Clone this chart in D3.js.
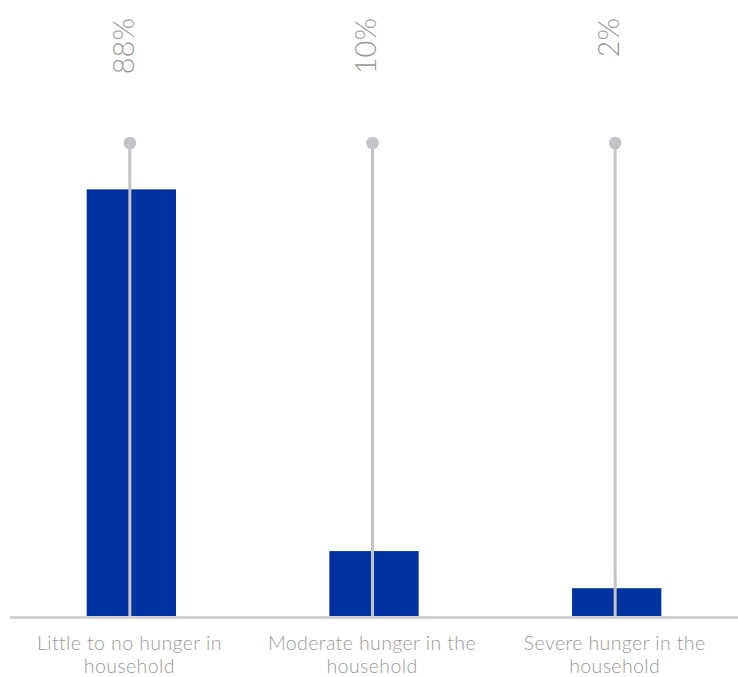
<!DOCTYPE html>
<html>
<head>
<meta charset="utf-8">
<script src="https://cdn.jsdelivr.net/npm/d3@7"></script>
<style>
  html, body { margin: 0; padding: 0; background: #ffffff; }
  svg { display: block; }
  text { font-family: Lato, "Open Sans", sans-serif; }
</style>
</head>
<body>
<div id="chart"></div>
<script>
// Household hunger scale — share of households in each category
const categories = [
  ["Little to no hunger in", "household"],
  ["Moderate hunger in the", "household"],
  ["Severe hunger in the", "household"]
];
const values = [88, 10, 2];
const valueLabels = ["88%", "10%", "2%"];

const width = 738, height = 677;
const baseY = 616, plotTop = 143;

const svg = d3.select("#chart").append("svg")
  .attr("width", width)
  .attr("height", height);

const x = d3.scaleBand()
  .domain(d3.range(values.length))
  .range([10, 738])
  .paddingInner(0.632)
  .paddingOuter(0.316);

const y = d3.scaleLinear()
  .domain([-4, 98])
  .range([baseY, plotTop]);

const cx = i => x(i) + x.bandwidth() / 2;

// bars
svg.append("g").selectAll("rect")
  .data(values)
  .join("rect")
  .attr("x", (d, i) => x(i))
  .attr("width", x.bandwidth())
  .attr("y", d => y(d))
  .attr("height", d => baseY - y(d))
  .attr("fill", "#0033a0");

// baseline
svg.append("line")
  .attr("x1", 10).attr("x2", width)
  .attr("y1", baseY + 1.5).attr("y2", baseY + 1.5)
  .attr("stroke", "#d2d2d4")
  .attr("stroke-width", 3);

// stems with end dots
const stems = svg.append("g").selectAll("g")
  .data(values)
  .join("g");
stems.append("line")
  .attr("x1", (d, i) => cx(i) - 1.5).attr("x2", (d, i) => cx(i) - 1.5)
  .attr("y1", baseY).attr("y2", y(y.domain()[1]))
  .attr("stroke", "#c4c4c8")
  .attr("stroke-width", 3);
stems.append("circle")
  .attr("cx", (d, i) => cx(i) - 1.5)
  .attr("cy", y(y.domain()[1]))
  .attr("r", 6.3)
  .attr("fill", "#c4c4c8");

// rotated value labels
svg.append("g").selectAll("text")
  .data(valueLabels)
  .join("text")
  .attr("transform", (d, i) => `translate(${cx(i) - 8},18) rotate(-90)`)
  .attr("text-anchor", "end")
  .attr("dy", "0.36em")
  .attr("font-size", 29)
  .attr("font-weight", 300)
  .attr("fill", "#999999")
  .text(d => d);

// category labels, two lines each
const cat = svg.append("g").selectAll("g")
  .data(categories)
  .join("g")
  .attr("transform", (d, i) => `translate(${cx(i) - 2},0)`);
cat.selectAll("text")
  .data(d => d)
  .join("text")
  .attr("x", 0)
  .attr("y", (d, j) => 650 + j * 23)
  .attr("text-anchor", "middle")
  .attr("font-size", 19.5)
  .attr("font-weight", 300)
  .attr("letter-spacing", 0.4)
  .attr("fill", "#999999")
  .text(d => d);
</script>
</body>
</html>
